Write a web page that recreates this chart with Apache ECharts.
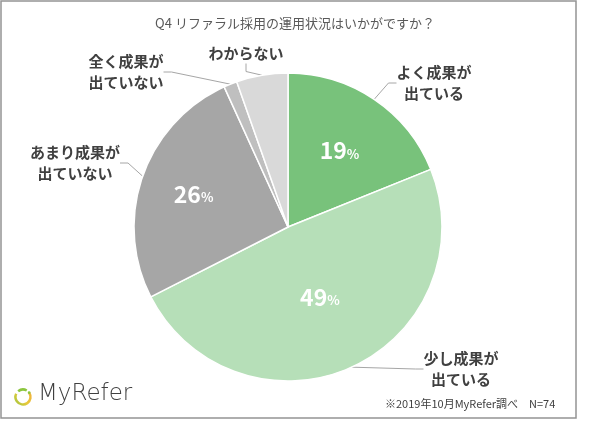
<!DOCTYPE html>
<html>
<head>
<meta charset="utf-8">
<script src="https://cdn.jsdelivr.net/npm/echarts@6/dist/echarts.min.js"></script>
<style>
html,body{margin:0;padding:0;background:#fff;}
#chart{width:590px;height:421px;}
</style>
</head>
<body>
<div id="chart"></div>
<script>
// ---- data ----
const categories = ['よく成果が\n出ている', '少し成果が\n出ている', 'あまり成果が\n出ていない', '全く成果が\n出ていない', 'わからない'];
const shares = [18.9, 48.6, 25.7, 1.4, 5.4];
const titleText = 'Q4 リファラル採用の運用状況はいかがですか？';
const noteText = '※2019年10月MyRefer調べ　N=74';
const brandText = 'MyRefer';

// ---- style ----
const colors = ['#78C27B', '#B6DFB8', '#A6A6A6', '#BFBFBF', '#D9D9D9'];
const CX = 288, CY = 227, R = 154;
// desired radial distance of inner % labels
const innerRadius = [92, 77, 100, null, null];
// outer label anchor positions (pixels)
const outerPos = [[434, 83], [461, 369], [75, 163], [126, 72], [246, 53]];

const chart = echarts.init(document.getElementById('chart'), null, {renderer: 'canvas'});
const font = '"Noto Sans CJK JP", "Noto Sans", sans-serif';
const deg = Math.PI / 180;

const pieData = categories.map((c, i) => ({
  name: c, value: shares[i], itemStyle: {color: colors[i]}
}));

chart.setOption({
  backgroundColor: '#fff',
  animation: false,
  title: {
    text: titleText, left: 'center', top: 12,
    textStyle: {fontFamily: font, fontSize: 13, fontWeight: 'normal', color: '#595959'}
  },
  graphic: [
    {type: 'rect', shape: {x: 1, y: 1, width: 575, height: 417},
     style: {fill: null, stroke: '#949494', lineWidth: 1.5}, silent: true, z: -1},
    {type: 'text', left: 385, top: 398,
     style: {text: noteText, fontFamily: font, fontSize: 11, fill: '#404040'}},
    {type: 'arc', shape: {cx: 23, cy: 397, r: 7.5, startAngle: -35 * deg, endAngle: 205 * deg},
     style: {fill: null, lineWidth: 2.5, stroke: new echarts.graphic.LinearGradient(1, 0, 0, 1, [
       {offset: 0, color: '#F2A93B'}, {offset: 0.5, color: '#E8C93A'}, {offset: 1, color: '#8CC63F'}])}},
    {type: 'arc', shape: {cx: 23, cy: 397, r: 7.5, startAngle: 230 * deg, endAngle: 300 * deg},
     style: {fill: null, lineWidth: 2.5, stroke: '#8CC63F'}},
    {type: 'circle', shape: {cx: 23 + 7.5 * Math.cos(325 * deg), cy: 397 + 7.5 * Math.sin(325 * deg), r: 1.4}, style: {fill: '#8CC63F'}},
    {type: 'text', left: 38, top: 383,
     style: {text: brandText, fontFamily: '"DejaVu Sans", sans-serif', fontSize: 23, fontWeight: 200, fill: '#404040'}}
  ],
  series: [
    {
      type: 'pie', center: [CX, CY], radius: [0, R], startAngle: 90, clockwise: true,
      silent: true,
      itemStyle: {borderColor: '#fff', borderWidth: 1.5},
      label: {
        show: true, position: 'inside',
        formatter: p => (innerRadius[p.dataIndex] ? '{n|' + Math.round(p.value) + '}{p|%}' : ''),
        rich: {
          n: {fontFamily: font, fontSize: 23, fontWeight: 'bold', color: '#fff'},
          p: {fontFamily: font, fontSize: 13, fontWeight: 'bold', color: '#fff', padding: [6, 0, 0, 0]}
        }
      },
      labelLayout: function (params) {
        const rr = innerRadius[params.dataIndex];
        if (!rr) return {};
        const lr = params.labelRect;
        const lx = lr.x + lr.width / 2, ly = lr.y + lr.height / 2;
        const d = Math.hypot(lx - CX, ly - CY) || 1;
        return {x: CX + (lx - CX) * rr / d, y: CY + (ly - CY) * rr / d, align: 'center', verticalAlign: 'middle'};
      },
      data: pieData
    },
    {
      type: 'pie', center: [CX, CY], radius: [0, R], startAngle: 90, clockwise: true,
      silent: true,
      itemStyle: {color: 'rgba(0,0,0,0)', borderWidth: 0},
      label: {
        show: true, position: 'outside',
        formatter: '{b}', align: 'center',
        fontFamily: font, fontSize: 15, fontWeight: 'bold', color: '#404040', lineHeight: 21
      },
      labelLine: {show: true, length: 12, length2: 8, lineStyle: {color: '#a6a6a6', width: 1}},
      labelLayout: function (params) {
        const p = outerPos[params.dataIndex];
        return {x: p[0], y: p[1], align: 'center', verticalAlign: 'middle'};
      },
      data: categories.map((c, i) => ({name: c, value: shares[i]}))
    }
  ]
});
</script>
</body>
</html>
